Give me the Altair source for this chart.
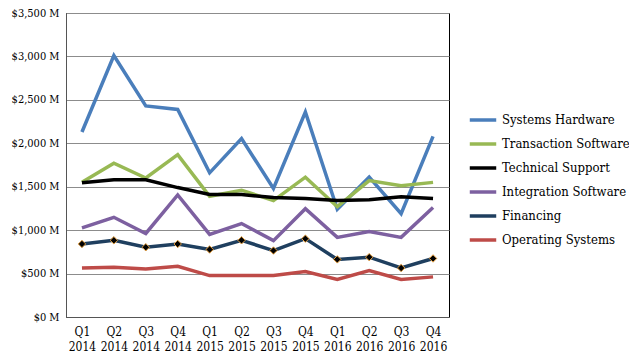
import altair as alt
import pandas as pd

quarters = ["Q1 2014", "Q2 2014", "Q3 2014", "Q4 2014",
            "Q1 2015", "Q2 2015", "Q3 2015", "Q4 2015",
            "Q1 2016", "Q2 2016", "Q3 2016", "Q4 2016"]

series_names = ["Systems Hardware", "Transaction Software", "Technical Support",
                "Integration Software", "Financing", "Operating Systems"]
series_colors = ["#4A7EBB", "#98B954", "#000000", "#7D60A0", "#1F3F5F", "#BE4B48"]

systems_hardware = [2130, 3010, 2430, 2390, 1660, 2055, 1480, 2360, 1240, 1610, 1190, 2080]
transaction_software = [1550, 1770, 1600, 1870, 1390, 1460, 1340, 1610, 1270, 1570, 1510, 1550]
technical_support = [1545, 1580, 1580, 1490, 1410, 1410, 1375, 1365, 1340, 1350, 1385, 1365]
integration_software = [1026, 1148, 962, 1405, 951, 1076, 879, 1246, 917, 985, 917, 1261]
financing = [841, 883, 803, 841, 777, 883, 765, 902, 663, 689, 564, 674]
operating_systems = [564, 572, 553, 583, 477, 477, 477, 523, 432, 534, 432, 462]

all_series = [systems_hardware, transaction_software, technical_support,
              integration_software, financing, operating_systems]

rows = []
for name, vals in zip(series_names, all_series):
    for q, v in zip(quarters, vals):
        rows.append({"Quarter": q, "Series": name, "Value": v,
                     "order": series_names.index(name)})
df = pd.DataFrame(rows)

FONT = "DejaVu Serif Condensed"

x_enc = alt.X("Quarter:N", sort=quarters, title=None,
              axis=alt.Axis(labelAngle=0, labelExpr="split(datum.label, ' ')",
                            labelFontSize=12, labelFont=FONT, labelColor="#000",
                            ticks=False, domainColor="#555", labelPadding=9,
                            labelLineHeight=15, grid=False),
              scale=alt.Scale(type="point", padding=0.5))

y_enc = alt.Y("Value:Q", title=None,
              scale=alt.Scale(domain=[0, 3500]),
              axis=alt.Axis(values=[0, 500, 1000, 1500, 2000, 2500, 3000, 3500],
                            labelExpr="'$' + format(datum.value, ',') + ' M'",
                            labelFontSize=11, labelFont=FONT, labelColor="#000",
                            ticks=False, labelPadding=7, domainColor="#555",
                            gridColor="#8C8C8C", gridWidth=1))

color_enc = alt.Color("Series:N",
                      scale=alt.Scale(domain=series_names, range=series_colors),
                      legend=alt.Legend(title=None, orient="none", legendX=402, legendY=92,
                                        symbolType="stroke", symbolStrokeWidth=3.5,
                                        symbolSize=700, labelFont=FONT, labelFontSize=13,
                                        labelColor="#000", rowPadding=2, labelOffset=4))

lines = alt.Chart(df).mark_line(strokeWidth=3.5).encode(
    x=x_enc, y=y_enc, color=color_enc,
    detail="Series:N", order="order:Q")

points = alt.Chart(df[df["Series"] == "Financing"]).mark_point(
    shape="diamond", filled=True, fill="#000000", stroke="#E6A040",
    strokeWidth=1, size=55, opacity=1).encode(x=x_enc, y=y_enc)

chart = alt.layer(lines, points).properties(
    width=383, height=304,
    autosize=alt.AutoSizeParams(type="none"),
    padding={"left": 58, "top": 5, "right": 180, "bottom": 45},
).configure_view(stroke="#000000", strokeWidth=1)

chart.save("out.html", embed_options={"renderer": "svg", "actions": False})
